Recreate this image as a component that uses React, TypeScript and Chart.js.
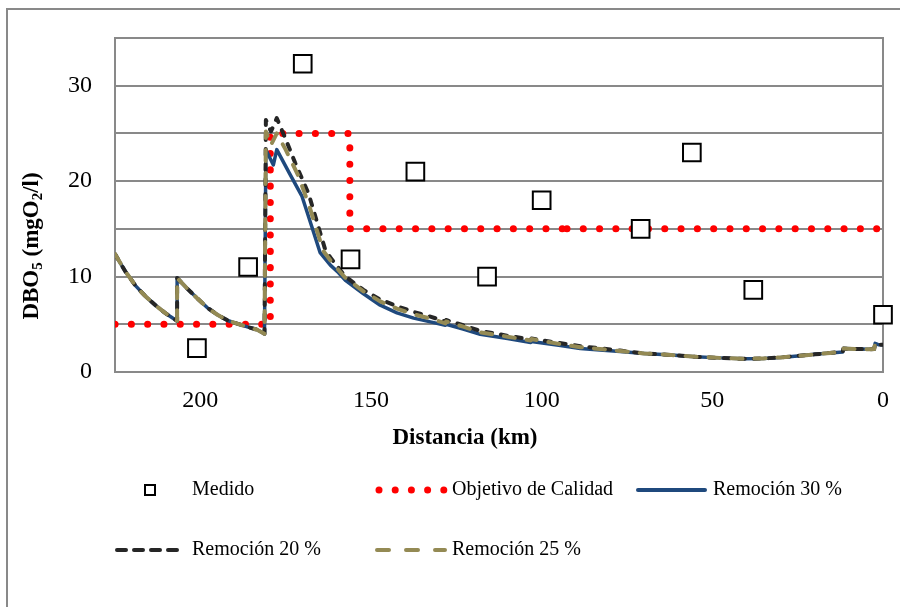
import React, { useEffect, useRef } from 'react';
import { Chart, registerables } from 'chart.js';

Chart.register(...registerables);

// Measured values (squares)
const medidoKm = [201, 186, 170, 156, 137, 116, 100, 71, 56, 38, 0];
const medidoDbo = [2.5, 11.0, 32.3, 11.8, 21.0, 10.0, 18.0, 15.0, 23.0, 8.6, 6.0];

// Quality objective (red dotted), two reaches
const objetivoKm = [225, 179.5, 179.5, 156.2, 156.2, 92.6];
const objetivoDbo = [5, 5, 25, 25, 15, 15];
const objetivo2Km = [92.6, 0];
const objetivo2Dbo = [15, 15];

// Upstream reach, common to the three simulations
const upstreamKm = [225, 222, 219, 216, 213, 210, 206.8, 206.8, 204, 201, 198, 195, 192, 189, 186, 183.5, 181.2];
const upstreamDbo = [12.35, 10.55, 9.05, 7.9, 6.95, 6.1, 5.35, 9.85, 8.8, 7.75, 6.75, 6.0, 5.4, 5.05, 4.7, 4.45, 4.0];

// Remoción 30 %
const km30 = [180.8, 178.6, 177.6, 174, 170.2, 167.5, 164.9, 161.9, 159.5, 157.5, 152.2, 147.3, 142.4, 137.5, 132.6, 128.2, 128, 123, 118, 110, 103.2, 103, 95, 88.7, 82, 77];
const dbo30 = [23.3, 21.7, 23.3, 20.9, 18.4, 15.4, 12.5, 11.2, 10.4, 9.6, 8.2, 7.0, 6.2, 5.65, 5.25, 4.9, 5.0, 4.5, 3.95, 3.5, 3.1, 3.2, 2.8, 2.45, 2.28, 2.15];

// Remoción 20 %
const km20 = [180.8, 179.3, 177.6, 175, 172.2, 168.3, 163.4, 161.9, 157.5, 152.2, 147.3, 142.4, 137.5, 132.6, 128.2, 128, 123, 118, 110, 103.2, 103, 95, 88.7, 82, 77];
const dbo20 = [26.4, 25.2, 26.6, 24.4, 21.9, 18.7, 12.8, 12.0, 10.0, 8.6, 7.6, 6.9, 6.3, 5.8, 5.3, 5.45, 4.9, 4.3, 3.8, 3.4, 3.5, 3.05, 2.7, 2.45, 2.25];

// Remoción 25 %
const km25 = [180.8, 179.3, 177.6, 175, 171.2, 168, 164, 161.9, 157.5, 152.2, 147.3, 142.4, 137.5, 132.6, 128.2, 128, 123, 118, 110, 103.2, 103, 95, 88.7, 82, 77];
const dbo25 = [25.2, 23.8, 25.0, 23.3, 20.5, 17.3, 12.7, 11.7, 9.85, 8.45, 7.4, 6.65, 6.05, 5.6, 5.1, 5.3, 4.75, 4.15, 3.7, 3.3, 3.45, 2.95, 2.6, 2.38, 2.2];

// Downstream reach, common to the three simulations
const tailKm = [70, 62, 55, 48, 41, 35, 30, 25, 20, 15.5, 11.8, 11.6, 4, 2.6, 2.3, 1.2, 0];
const tailDbo = [1.95, 1.78, 1.6, 1.48, 1.38, 1.42, 1.53, 1.68, 1.85, 2.0, 2.1, 2.45, 2.38, 2.4, 3.0, 2.85, 2.85];

const xTicks = [0, 50, 100, 150, 200];
const yLabelled = [0, 10, 20, 30];

const pts = (k: number[], v: number[]) => k.map((x, i) => ({ x, y: v[i] }));
const series = (k: number[], v: number[]) => [
  ...pts(upstreamKm, upstreamDbo),
  ...pts(k, v),
  ...pts(tailKm, tailDbo),
];

const SERIF = '"Liberation Serif", "Times New Roman", serif';
const C30 = '#1F497D';
const C20 = '#262626';
const C25 = '#948A54';
const CRED = '#FF0000';
const GRID = '#898989';

const decorPlugin = {
  id: 'decor',
  beforeDraw(chart: any) {
    const ctx = chart.ctx;
    ctx.save();
    ctx.fillStyle = '#fff';
    ctx.fillRect(0, 0, chart.width, chart.height);
    ctx.strokeStyle = GRID;
    ctx.lineWidth = 2;
    ctx.beginPath();
    ctx.moveTo(7, chart.height);
    ctx.lineTo(7, 9);
    ctx.lineTo(chart.width, 9);
    ctx.stroke();
    ctx.restore();
  },
  beforeDatasetsDraw(chart: any) {
    const { ctx, chartArea: a } = chart;
    ctx.save();
    ctx.strokeStyle = GRID;
    ctx.lineWidth = 2;
    ctx.strokeRect(a.left, a.top, a.right - a.left, a.bottom - a.top);
    ctx.restore();
  },
  afterDraw(chart: any) {
    const ctx = chart.ctx;
    ctx.save();
    // x title
    ctx.fillStyle = '#000';
    ctx.font = `bold 23px ${SERIF}`;
    ctx.textAlign = 'center';
    ctx.textBaseline = 'middle';
    ctx.fillText('Distancia (km)', 465, 438);

    // y title with subscripts
    const runs = [
      { t: 'DBO', s: false },
      { t: '5', s: true },
      { t: ' (mgO', s: false },
      { t: '2', s: true },
      { t: '/l)', s: false },
    ];
    const big = `bold 23px ${SERIF}`;
    const small = `bold 15px ${SERIF}`;
    let total = 0;
    const widths = runs.map((r) => {
      ctx.font = r.s ? small : big;
      const w = ctx.measureText(r.t).width;
      total += w;
      return w;
    });
    ctx.translate(30, 246);
    ctx.rotate(-Math.PI / 2);
    ctx.textAlign = 'left';
    ctx.textBaseline = 'alphabetic';
    let x = -total / 2;
    runs.forEach((r, i) => {
      ctx.font = r.s ? small : big;
      ctx.fillText(r.t, x, r.s ? 12 : 8);
      x += widths[i];
    });
    ctx.restore();

    // legend
    ctx.save();
    ctx.font = `20px ${SERIF}`;
    ctx.fillStyle = '#000';
    ctx.textAlign = 'left';
    ctx.textBaseline = 'middle';
    const r1 = 490;
    const r2 = 550;
    // Medido
    ctx.fillStyle = '#fff';
    ctx.strokeStyle = '#000';
    ctx.lineWidth = 2;
    ctx.fillRect(145, r1 - 5, 10, 10);
    ctx.strokeRect(145, r1 - 5, 10, 10);
    ctx.fillStyle = '#000';
    ctx.fillText('Medido', 192, r1);
    // Objetivo
    ctx.fillStyle = CRED;
    for (let i = 0; i < 5; i++) {
      ctx.beginPath();
      ctx.arc(379 + i * 16.2, r1, 3.5, 0, Math.PI * 2);
      ctx.fill();
    }
    ctx.fillStyle = '#000';
    ctx.fillText('Objetivo de Calidad', 452, r1);
    // 30
    ctx.strokeStyle = C30;
    ctx.lineWidth = 4;
    ctx.lineCap = 'round';
    ctx.beginPath();
    ctx.moveTo(638, r1);
    ctx.lineTo(705, r1);
    ctx.stroke();
    ctx.fillText('Remoción 30 %', 713, r1);
    // 20
    ctx.strokeStyle = C20;
    ctx.setLineDash([9, 8]);
    ctx.beginPath();
    ctx.moveTo(117, r2);
    ctx.lineTo(182, r2);
    ctx.stroke();
    ctx.fillText('Remoción 20 %', 192, r2);
    // 25
    ctx.strokeStyle = C25;
    ctx.setLineDash([12, 17]);
    ctx.beginPath();
    ctx.moveTo(377, r2);
    ctx.lineTo(445, r2);
    ctx.stroke();
    ctx.setLineDash([]);
    ctx.fillText('Remoción 25 %', 452, r2);
    ctx.restore();
  },
};

export default function App() {
  const ref = useRef<HTMLCanvasElement | null>(null);

  useEffect(() => {
    if (!ref.current) return;
    const lineBase = {
      showLine: true,
      pointRadius: 0,
      pointHoverRadius: 0,
      tension: 0,
      fill: false,
      borderJoinStyle: 'round' as const,
    };
    const redBase = {
      ...lineBase,
      borderColor: CRED,
      backgroundColor: CRED,
      borderWidth: 7,
      borderDash: [0.1, 16.2],
      borderCapStyle: 'round',
      order: 4,
    };
    const chart = new Chart(ref.current, {
      type: 'scatter',
      data: {
        datasets: [
          {
            label: 'Medido',
            data: pts(medidoKm, medidoDbo),
            showLine: false,
            pointStyle: 'rect',
            pointRadius: 12.5,
            pointBorderWidth: 2,
            borderColor: '#000',
            backgroundColor: '#fff',
            pointBackgroundColor: '#fff',
            pointBorderColor: '#000',
            clip: false,
            order: 0,
          },
          {
            ...lineBase,
            label: 'Remoción 25 %',
            data: series(km25, dbo25),
            borderColor: C25,
            backgroundColor: C25,
            borderWidth: 4,
            borderDash: [11, 12],
            borderCapStyle: 'round',
            order: 1,
          },
          {
            ...lineBase,
            label: 'Remoción 20 %',
            data: series(km20, dbo20),
            borderColor: C20,
            backgroundColor: C20,
            borderWidth: 4,
            borderDash: [6, 9],
            borderCapStyle: 'round',
            order: 2,
          },
          {
            ...lineBase,
            label: 'Remoción 30 %',
            data: series(km30, dbo30),
            borderColor: C30,
            backgroundColor: C30,
            borderWidth: 3.5,
            order: 3,
          },
          {
            ...redBase,
            label: 'Objetivo de Calidad',
            data: pts(objetivoKm, objetivoDbo),
          },
          {
            ...redBase,
            label: 'Objetivo de Calidad (2)',
            data: pts(objetivo2Km, objetivo2Dbo),
          },
        ] as any,
      },
      options: {
        animation: false,
        responsive: false,
        devicePixelRatio: 1,
        layout: { padding: { left: 0, right: 17, top: 38, bottom: 0 } },
        plugins: {
          legend: { display: false },
          tooltip: { enabled: false },
          title: { display: false },
        },
        scales: {
          x: {
            type: 'linear',
            reverse: true,
            min: 0,
            max: 225,
            afterFit: (s: any) => {
              s.height = 235;
            },
            afterBuildTicks: (s: any) => {
              s.ticks = xTicks.map((v) => ({ value: v }));
            },
            ticks: {
              includeBounds: false,
              font: { family: SERIF, size: 24 },
              color: '#000',
              padding: 14,
              maxRotation: 0,
            },
            grid: { display: false, drawTicks: false },
            border: { display: true, color: GRID, width: 2 },
          },
          y: {
            type: 'linear',
            min: 0,
            max: 35,
            afterFit: (s: any) => {
              s.width = 115;
            },
            ticks: {
              stepSize: 5,
              includeBounds: false,
              font: { family: SERIF, size: 24 },
              color: '#000',
              padding: 23,
              callback: (v: any) => (yLabelled.includes(Number(v)) ? String(v) : ''),
            },
            grid: { color: GRID, lineWidth: 2, drawTicks: false },
            border: { display: true, color: GRID, width: 2 },
          },
        },
      } as any,
      plugins: [decorPlugin],
    });
    return () => chart.destroy();
  }, []);

  return (
    <div style={{ position: 'absolute', left: 0, top: 0, width: 900, height: 607, background: '#fff' }}>
      <canvas ref={ref} width={900} height={607} style={{ width: 900, height: 607, display: 'block' }} />
    </div>
  );
}
